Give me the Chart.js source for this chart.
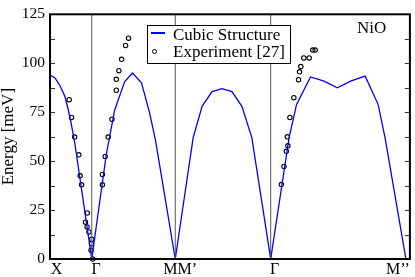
<!DOCTYPE html>
<html>
<head>
<meta charset="utf-8">
<script src="https://cdn.jsdelivr.net/npm/chart.js@4.4.0/dist/chart.umd.min.js"></script>
<style>
  body { margin: 0; background: #fff; }
  #wrap { position: relative; width: 415px; height: 277px; font-family: "Liberation Serif", "DejaVu Serif", serif; color: #000; }
  #wrap canvas { display: block; }
  #legend { position: absolute; left: 147px; top: 25px; width: 142px; height: 37px; border: 1px solid #000; background: #fff; font-size: 17px; line-height: 17px; }
  #legend .row { position: absolute; left: 25px; white-space: nowrap; }
  #legend .line { position: absolute; left: 3px; top: 6px; width: 14px; height: 2px; background: #0000ff; }
  #legend .dot { position: absolute; left: 4px; top: 23px; width: 3px; height: 3px; border: 1px solid #000; border-radius: 50%; }
  #tag { position: absolute; left: 357px; top: 19px; font-size: 17px; line-height: 17px; }
</style>
</head>
<body>
<div id="wrap">
  <canvas id="chart" width="415" height="277"></canvas>
  <div id="legend">
    <div class="line"></div><div class="row" style="top:0px">Cubic Structure</div>
    <div class="dot"></div><div class="row" style="top:17px">Experiment [27]</div>
  </div>
  <div id="tag">NiO</div>
</div>
<script>
// path along the Brillouin zone (x in path units), energies in meV
var pathLabels = ["X", "Γ", "MM’", "Γ", "M’’"];
var labelPos = [6.5, 46.5, 131, 226, 350];
var symLines = [42, 126, 222];
var xMax = 362;

var calcX = [0, 5, 10, 15, 18, 21, 25, 42,
    56.5, 65, 75, 83, 92, 100, 106, 126,
    144, 153, 163, 173, 183, 193, 203, 222,
    240.5, 248, 262, 275, 289, 303, 317, 330, 337, 358];
var calcE = [94, 92.5, 88.5, 83, 77, 70, 59, 0,
    53, 76, 90.5, 95, 90, 75, 61, 0,
    62, 78, 85.5, 87, 85.5, 78, 62, 0,
    62, 79, 93, 91, 87.5, 91, 93.4, 79, 62, 0];

var expX = [19.3, 21.7, 24.8, 29, 30.3, 31.8, 37.5, 35.7, 37.3, 39.2, 42, 41.7, 41.3, 43,
    52.7, 52.7, 55.5, 58.5, 62.3, 66.7, 66.7, 69.3, 72, 76, 79,
    232.7, 235.3, 237.7, 239.3, 238.7, 241.3, 245.3, 250, 251, 252.3, 255.3, 260.7, 264.3, 266.7];
var expE = [81.4, 72.3, 62.3, 53.2, 42.5, 37.9, 23.5, 18.8, 16.4, 13.8, 10.1, 7.8, 4.5, 0,
    37.9, 43.2, 52.4, 62.3, 71.4, 86.2, 91.8, 96.2, 102, 109.1, 112.8,
    38, 47.3, 55, 57.8, 62.4, 72.3, 82.4, 91.6, 95.6, 98.3, 102.7, 102.7, 106.7, 106.7];

var yMax = 125;

function toPoints(xs, ys) {
    var pts = [];
    for (var i = 0; i < xs.length; i++) pts.push({x: xs[i], y: ys[i]});
    return pts;
}

var serif = "'Liberation Serif', 'DejaVu Serif', serif";

var datasets = [];
symLines.forEach(function(v) {
    datasets.push({
        data: [{x: v, y: 0}, {x: v, y: yMax}],
        borderColor: "#555",
        borderWidth: 1,
        pointRadius: 0,
        showLine: true
    });
});
datasets.push({
    label: "Cubic Structure",
    data: toPoints(calcX, calcE),
    borderColor: "#0000ff",
    borderWidth: 1.3,
    pointRadius: 0,
    showLine: true,
    tension: 0
});
datasets.push({
    label: "Experiment [27]",
    data: toPoints(expX, expE),
    showLine: false,
    pointRadius: 2.2,
    pointBorderWidth: 1.1,
    borderColor: "#000",
    backgroundColor: "rgba(0,0,0,0)",
    clip: false
});

// frame with inward ticks on both sides
var frameTicks = {
    id: "frameTicks",
    afterDatasetsDraw: function(chart) {
        var ctx = chart.ctx, a = chart.chartArea, ys = chart.scales.y;
        ctx.save();
        ctx.strokeStyle = "#333";
        ctx.lineWidth = 1;
        ys.ticks.forEach(function(t) {
            var py = Math.round(ys.getPixelForValue(t.value)) + 0.5;
            ctx.beginPath();
            ctx.moveTo(a.left, py); ctx.lineTo(a.left + 5, py);
            ctx.moveTo(a.right - 5, py); ctx.lineTo(a.right, py);
            ctx.stroke();
        });
        ctx.strokeStyle = "#000";
        ctx.lineWidth = 2;
        ctx.strokeRect(a.left, a.top, a.right - a.left, a.bottom - a.top);
        ctx.restore();
    }
};

new Chart(document.getElementById("chart").getContext("2d"), {
    type: "scatter",
    data: {datasets: datasets},
    plugins: [frameTicks],
    options: {
        responsive: false,
        animation: false,
        layout: {padding: {top: 7, right: 3, left: 0, bottom: 0}},
        plugins: {legend: {display: false}, tooltip: {enabled: false}},
        scales: {
            x: {
                type: "linear",
                min: 0,
                max: xMax,
                grid: {display: false, drawTicks: false},
                border: {display: false},
                afterBuildTicks: function(scale) {
                    scale.ticks = labelPos.map(function(v) { return {value: v}; });
                },
                afterFit: function(scale) { scale.height = 18; },
                ticks: {
                    autoSkip: false,
                    maxRotation: 0,
                    padding: 1,
                    color: "#000",
                    font: {family: serif, size: 16},
                    callback: function(value, index) { return pathLabels[index]; }
                }
            },
            y: {
                min: 0,
                max: yMax,
                grid: {display: false, drawTicks: false},
                border: {display: false},
                afterFit: function(scale) { scale.width = 50; },
                title: {
                    display: true,
                    text: "Energy [meV]",
                    color: "#000",
                    padding: 0,
                    font: {family: serif, size: 17, lineHeight: 1}
                },
                ticks: {
                    stepSize: 12.5,
                    padding: 5,
                    color: "#000",
                    font: {family: serif, size: 15.5},
                    callback: function(v) { return v % 25 === 0 ? v : ""; }
                }
            }
        }
    }
});
</script>
</body>
</html>
